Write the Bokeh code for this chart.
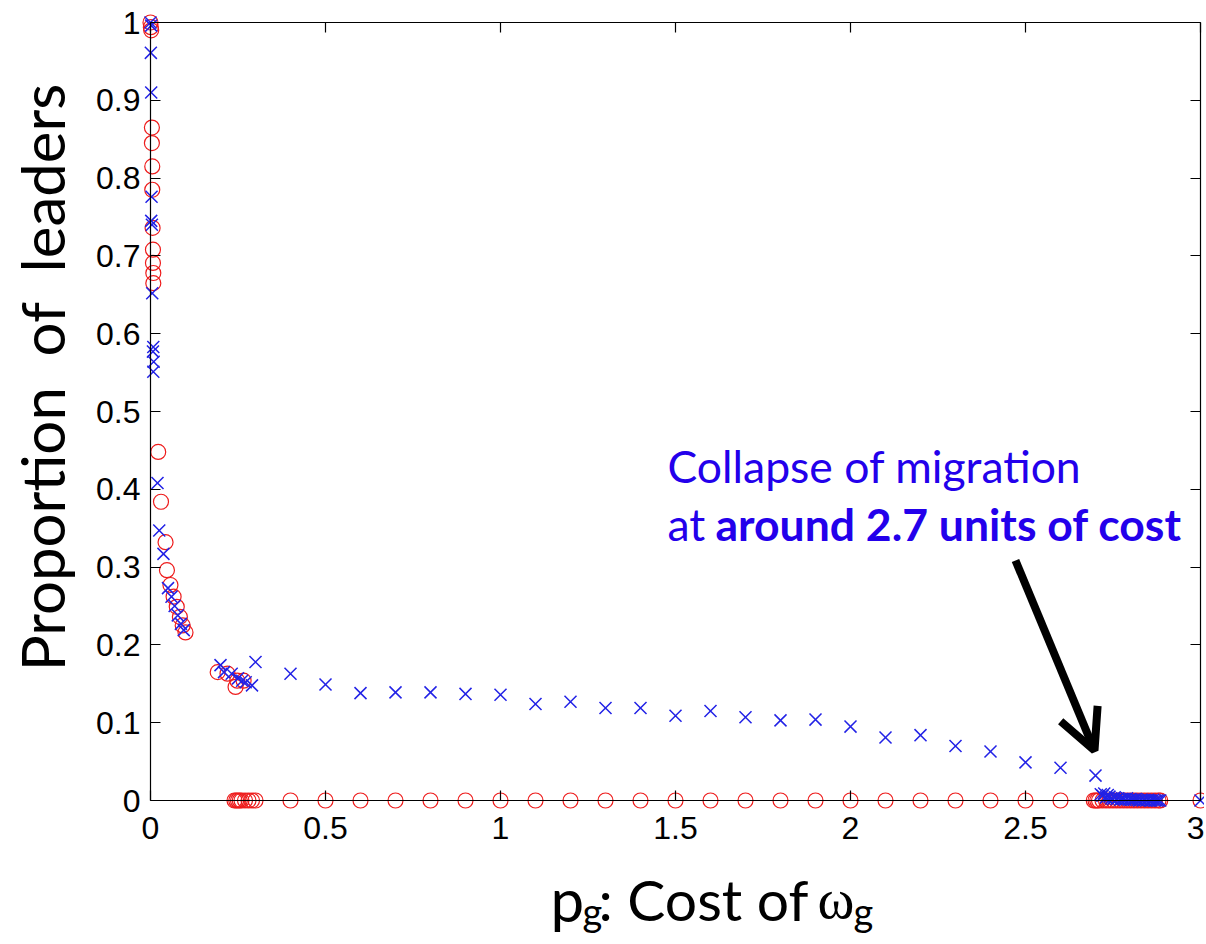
import math
from bokeh.plotting import figure
from bokeh.models import LinearAxis, FixedTicker, Label, Arrow, OpenHead, Range1d
from bokeh.embed import file_html
from bokeh.resources import INLINE

# ---------------- data ----------------
# blue crosses
blue_x = [0.000, 0.002, 0.001, 0.002, 0.003, 0.002, 0.004, 0.005,
          0.008, 0.007, 0.009, 0.008, 0.020, 0.025, 0.037,
          0.050, 0.060, 0.069, 0.078, 0.087, 0.095,
          0.200, 0.210, 0.232, 0.250, 0.262, 0.272, 0.290, 0.300,
          0.4, 0.5, 0.6, 0.7, 0.8, 0.9, 1.0, 1.1, 1.2, 1.3, 1.4, 1.5,
          1.6, 1.7, 1.8, 1.9, 2.0, 2.1, 2.2, 2.3, 2.4, 2.5, 2.6, 2.7,
          2.715, 2.72, 2.725, 2.73, 2.735, 2.74, 2.745, 2.75, 2.755, 2.76,
          2.765, 2.77, 2.775, 2.78, 2.785, 2.79, 2.795, 2.80, 2.805, 2.81,
          2.815, 2.82, 2.825, 2.83, 2.835, 2.84, 2.845, 2.85, 2.855, 2.86,
          2.865, 2.87, 2.875, 2.88, 2.885, 3.0]
blue_y = [1.000, 0.996, 0.961, 0.910, 0.776, 0.745, 0.740, 0.652,
          0.583, 0.577, 0.564, 0.551, 0.408, 0.347, 0.317,
          0.273, 0.262, 0.250, 0.238, 0.227, 0.219,
          0.174, 0.165, 0.163, 0.157, 0.154, 0.152, 0.148, 0.178,
          0.163, 0.149, 0.138, 0.139, 0.139, 0.137, 0.136, 0.124, 0.127, 0.119, 0.119, 0.109,
          0.115, 0.107, 0.103, 0.104, 0.095, 0.081, 0.084, 0.070, 0.063, 0.049, 0.042, 0.032,
          0.008, 0.006, 0.009, 0.004, 0.007, 0.005, 0.003, 0.002, 0.004, 0.002,
          0.003, 0.001, 0.002, 0.002, 0.001, 0.003, 0.001, 0.002, 0.001, 0.001,
          0.002, 0.001, 0.000, 0.001, 0.000, 0.001, 0.000, 0.001, 0.000, 0.000,
          0.001, 0.000, 0.000, 0.000, 0.000, 0.000]

# red circles
red_x = [0.000, 0.001, 0.002, 0.004, 0.004, 0.005, 0.005, 0.006, 0.007, 0.007, 0.008, 0.008,
         0.022, 0.030, 0.043, 0.047, 0.057, 0.066, 0.075, 0.084, 0.092, 0.100,
         0.192, 0.220, 0.243, 0.248, 0.266,
         0.24, 0.245, 0.25, 0.255, 0.26, 0.27, 0.28, 0.29, 0.30,
         0.4, 0.5, 0.6, 0.7, 0.8, 0.9, 1.0, 1.1, 1.2, 1.3, 1.4, 1.5,
         1.6, 1.7, 1.8, 1.9, 2.0, 2.1, 2.2, 2.3, 2.4, 2.5, 2.6,
         2.695, 2.70, 2.705, 2.71, 2.72, 2.73, 2.74, 2.75, 2.76, 2.77, 2.78,
         2.79, 2.80, 2.81, 2.82, 2.83, 2.84, 2.85, 2.86, 2.87, 2.88, 2.885, 3.0]
red_y = [1.000, 0.994, 0.990, 0.865, 0.845, 0.815, 0.785, 0.736, 0.708, 0.691, 0.678, 0.665,
         0.448, 0.384, 0.332, 0.296, 0.277, 0.262, 0.249, 0.236, 0.225, 0.216,
         0.165, 0.163, 0.146, 0.154, 0.154,
         0.0, 0.0, 0.0, 0.0, 0.0, 0.0, 0.0, 0.0, 0.0,
         0.0, 0.0, 0.0, 0.0, 0.0, 0.0, 0.0, 0.0, 0.0, 0.0, 0.0, 0.0,
         0.0, 0.0, 0.0, 0.0, 0.0, 0.0, 0.0, 0.0, 0.0, 0.0, 0.0,
         0.0, 0.0, 0.0, 0.0, 0.0, 0.0, 0.0, 0.0, 0.0, 0.0, 0.0,
         0.0, 0.0, 0.0, 0.0, 0.0, 0.0, 0.0, 0.0, 0.0, 0.0, 0.0, 0.0]

x_ticks = [0, 0.5, 1, 1.5, 2, 2.5, 3]
x_tick_labels = ["0", "0.5", "1", "1.5", "2", "2.5", "3"]
y_ticks = [0, 0.1, 0.2, 0.3, 0.4, 0.5, 0.6, 0.7, 0.8, 0.9, 1]
y_tick_labels = ["0", "0.1", "0.2", "0.3", "0.4", "0.5", "0.6", "0.7", "0.8", "0.9", "1"]

y_title = "Proportion\u00a0 of\u00a0 leaders"
annot_line1 = "Collapse of migration"
annot_line2a = "at"
annot_line2b = "around 2.7 units of cost"

# ---------------- layout geometry (pixels) ----------------
W, H = 1204, 940          # canvas = frame
X0PX, XPX = 150.0, 350.0  # page x of data x=0, pixels per x unit
Y0PX, YPX = 800.0, 778.0  # page y of data y=0, pixels per y unit
TXT_SHIFT = 17            # compensation for label baseline placement


def xd(px):
    return (px - X0PX) / XPX


def yd(py):
    return (Y0PX - py) / YPX


def yb(py):
    # baseline placement for text labels
    return yd(py - TXT_SHIFT)


p = figure(frame_width=W, frame_height=H,
           x_range=Range1d(xd(0), xd(W)), y_range=Range1d(yd(H), yd(0)),
           output_backend="svg", toolbar_location=None,
           min_border=0, x_axis_location=None, y_axis_location=None)
p.outline_line_color = None
p.xgrid.visible = False
p.ygrid.visible = False
p.background_fill_color = "white"
p.border_fill_color = "white"

TICK_FONT = "Liberation Sans"


def style_axis(ax, ticks, labels, show_labels):
    ax.ticker = FixedTicker(ticks=ticks)
    ax.major_tick_in = 10
    ax.major_tick_out = 0
    ax.minor_tick_in = 0
    ax.minor_tick_out = 0
    ax.axis_line_color = "black"
    ax.axis_line_width = 1.2
    ax.major_tick_line_color = "black"
    ax.major_tick_line_width = 1.2
    if show_labels:
        ax.major_label_overrides = dict(zip(ticks, labels))
        ax.major_label_text_font = TICK_FONT
        ax.major_label_text_font_size = "32px"
        ax.major_label_text_color = "black"
    else:
        ax.major_label_text_color = None


xb = LinearAxis(fixed_location=0, bounds=(0, 3))
style_axis(xb, x_ticks, x_tick_labels, True)
xb.major_label_standoff = 16
p.add_layout(xb, "below")

xt = LinearAxis(fixed_location=1, bounds=(0, 3))
style_axis(xt, x_ticks, x_tick_labels, False)
p.add_layout(xt, "above")

yl = LinearAxis(fixed_location=0, bounds=(0, 1))
style_axis(yl, y_ticks, y_tick_labels, True)
yl.major_label_standoff = 10
p.add_layout(yl, "left")

yr = LinearAxis(fixed_location=3, bounds=(0, 1))
style_axis(yr, y_ticks, y_tick_labels, False)
p.add_layout(yr, "right")

# markers
p.scatter(red_x, red_y, marker="circle", size=15, fill_color=None,
          line_color="#ee1c1c", line_width=1.2)
p.scatter(blue_x, blue_y, marker="x", size=17, line_color="#2222e6",
          line_width=1.5)

LBL_FONT = "Lato"

# y-axis title (rotated)
p.add_layout(Label(x=xd(41), y=yd(377), text=y_title, angle=math.pi / 2,
                   text_font=LBL_FONT, text_font_size="60px", text_color="black",
                   text_align="center", text_baseline="middle"))

# x-axis title pieces (with subscripts)
p.add_layout(Label(x=xd(550), y=yb(915), text="p", text_font=LBL_FONT,
                   text_font_size="60px", text_color="black", text_baseline="alphabetic"))
p.add_layout(Label(x=xd(582), y=yb(927), text="g", text_font=LBL_FONT,
                   text_font_size="38px", text_color="black", text_baseline="alphabetic"))
p.add_layout(Label(x=xd(598), y=yb(915), text=": Cost of", text_font=LBL_FONT,
                   text_font_size="57px", text_color="black", text_baseline="alphabetic"))
p.add_layout(Label(x=xd(817), y=yb(915), text="\u03c9", text_font="Liberation Serif",
                   text_font_size="56px", text_color="black", text_baseline="alphabetic"))
p.add_layout(Label(x=xd(853), y=yb(927), text="g", text_font=LBL_FONT,
                   text_font_size="38px", text_color="black", text_baseline="alphabetic"))

# annotation
ANN = "#2300eb"
p.add_layout(Label(x=xd(667), y=yb(482), text=annot_line1,
                   text_font=LBL_FONT, text_font_size="44.5px", text_color=ANN,
                   text_baseline="alphabetic"))
p.add_layout(Label(x=xd(667), y=yb(540), text=annot_line2a,
                   text_font=LBL_FONT, text_font_size="44.5px", text_color=ANN,
                   text_baseline="alphabetic"))
p.add_layout(Label(x=xd(715), y=yb(540), text=annot_line2b,
                   text_font=LBL_FONT, text_font_size="44.5px", text_font_style="bold",
                   text_color=ANN, text_baseline="alphabetic"))

p.add_layout(Arrow(x_start=xd(1015), y_start=yd(560), x_end=xd(1094), y_end=yd(750),
                   line_color="black", line_width=8,
                   end=OpenHead(size=40, line_width=8, line_color="black")))

open("out.html", "w").write(file_html(p, INLINE))
